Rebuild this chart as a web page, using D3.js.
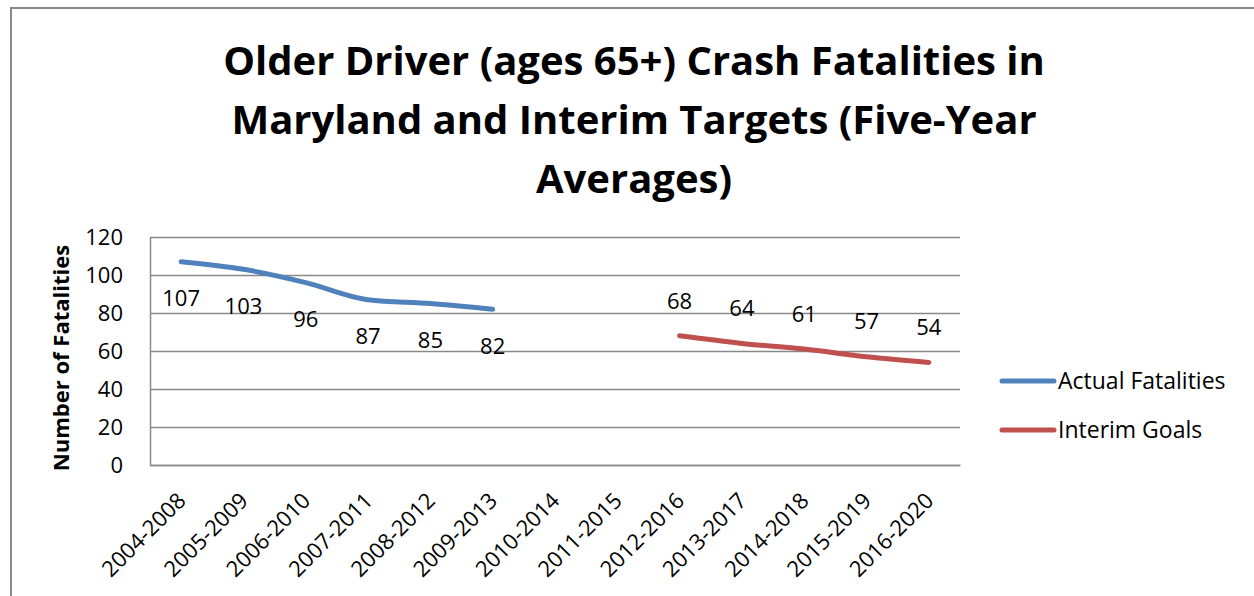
<!DOCTYPE html>
<html>
<head>
<meta charset="utf-8">
<script src="https://cdn.jsdelivr.net/npm/d3@7"></script>
<style>
  body { margin: 0; background: #fff; }
  svg { display: block; font-family: 'Open Sans', sans-serif; font-variant-ligatures: none; }
</style>
</head>
<body>
<div id="chart"></div>
<script>
var periods = ['2004-2008', '2005-2009', '2006-2010', '2007-2011', '2008-2012', '2009-2013',
               '2010-2014', '2011-2015', '2012-2016', '2013-2017', '2014-2018', '2015-2019', '2016-2020'];
var actualFatalities = [107, 103, 96, 87, 85, 82, null, null, null, null, null, null, null];
var interimGoals = [null, null, null, null, null, null, null, null, 68, 64, 61, 57, 54];
var yTicks = [0, 20, 40, 60, 80, 100, 120];
var titleLines = ['Older Driver (ages 65+) Crash Fatalities in',
                  'Maryland and Interim Targets (Five-Year',
                  'Averages)'];

var width = 1254, height = 596;
var plotLeft = 150, plotRight = 960, plotTop = 237, plotBottom = 465;

var svg = d3.select('#chart')
            .append('svg')
            .attr('width', width)
            .attr('height', height);

// outer chart border
svg.append('rect')
   .attr('x', 11)
   .attr('y', 8)
   .attr('width', 1300)
   .attr('height', 700)
   .attr('fill', 'none')
   .attr('stroke', '#898989')
   .attr('stroke-width', 2);

svg.selectAll('.title')
   .data(titleLines)
   .enter()
   .append('text')
   .attr('class', 'title')
   .attr('x', 634)
   .attr('y', (d, i) => 75 + i * 59)
   .attr('text-anchor', 'middle')
   .style('font-weight', 'bold')
   .style('font-size', '40px')
   .text(d => d);

var x = d3.scaleBand()
          .domain(periods)
          .range([plotLeft, plotRight]);

var y = d3.scaleLinear()
          .domain([0, 120])
          .range([plotBottom, plotTop]);

var cx = d => x(d) + x.bandwidth() / 2;

// gridlines
svg.append('g')
   .attr('transform', `translate(${plotLeft},0)`)
   .call(d3.axisLeft(y).tickValues(yTicks).tickSize(-(plotRight - plotLeft)).tickFormat(''))
   .call(g => g.select('.domain').remove())
   .call(g => g.selectAll('line').attr('stroke', '#898989').attr('stroke-width', 1.5));

// y axis
svg.append('g')
   .attr('transform', `translate(${plotLeft},0)`)
   .call(d3.axisLeft(y).tickValues(yTicks).tickSize(0).tickPadding(27))
   .call(g => g.select('.domain').attr('stroke', '#898989').attr('stroke-width', 1.5))
   .call(g => g.selectAll('text').style('font-size', '22px').style('font-family', "'Open Sans', sans-serif").attr('fill', '#000'));

// x axis
svg.append('g')
   .attr('transform', `translate(0,${plotBottom})`)
   .call(d3.axisBottom(x).tickSize(0))
   .call(g => g.select('.domain').attr('stroke', '#898989').attr('stroke-width', 1.5))
   .call(g => g.selectAll('text')
               .style('font-size', '22px')
               .style('font-family', "'Open Sans', sans-serif")
               .attr('fill', '#000')
               .attr('text-anchor', 'end')
               .attr('dy', null)
               .attr('y', 0)
               .attr('transform', 'translate(6,37) rotate(-45)'));

svg.append('text')
   .attr('transform', `translate(69,${(plotTop + plotBottom) / 2 + 7}) rotate(-90)`)
   .attr('text-anchor', 'middle')
   .style('font-weight', 'bold')
   .style('font-size', '22px')
   .text('Number of Fatalities');

var line = d3.line()
             .defined(d => d.v != null)
             .x(d => cx(d.p))
             .y(d => y(d.v))
             .curve(d3.curveMonotoneX);

var series = [
    {name: 'Actual Fatalities', values: actualFatalities, color: '#4F81BD', labelDy: 37},
    {name: 'Interim Goals', values: interimGoals, color: '#C0504D', labelDy: -35}
];

series.forEach((s, si) => {
    var pts = periods.map((p, i) => ({p: p, v: s.values[i]}));

    svg.append('path')
       .datum(pts)
       .attr('fill', 'none')
       .attr('stroke', s.color)
       .attr('stroke-width', 5)
       .attr('stroke-linecap', 'round')
       .attr('stroke-linejoin', 'round')
       .attr('d', line);

    svg.selectAll('.label' + si)
       .data(pts.filter(d => d.v != null))
       .enter()
       .append('text')
       .attr('class', 'label' + si)
       .attr('x', d => cx(d.p))
       .attr('y', d => y(d.v) + s.labelDy)
       .attr('dy', '0.35em')
       .attr('text-anchor', 'middle')
       .style('font-size', '22px')
       .text(d => d.v);

    // legend
    var ly = 381 + si * 49;
    svg.append('line')
       .attr('x1', 1002)
       .attr('x2', 1054)
       .attr('y1', ly)
       .attr('y2', ly)
       .attr('stroke', s.color)
       .attr('stroke-width', 5)
       .attr('stroke-linecap', 'round');
    svg.append('text')
       .attr('x', 1058)
       .attr('y', ly)
       .attr('dy', '0.35em')
       .style('font-size', '23px')
       .text(s.name);
});
</script>
</body>
</html>
